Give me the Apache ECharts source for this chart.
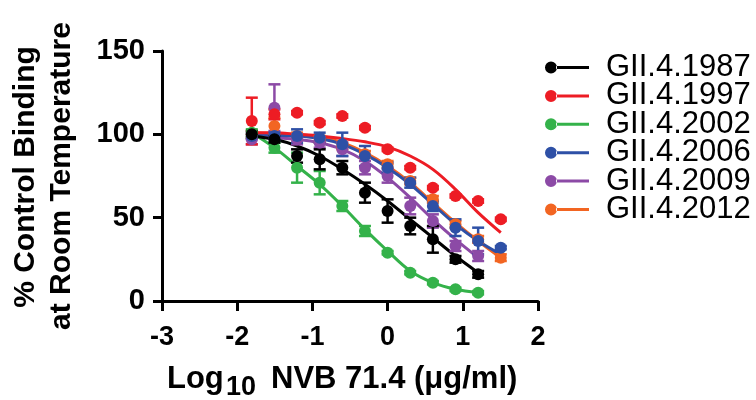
<!DOCTYPE html>
<html>
<head>
<meta charset="utf-8">
<script src="https://cdn.jsdelivr.net/npm/echarts@6/dist/echarts.min.js"></script>
<style>html,body{margin:0;padding:0;background:#fff}#c{width:756px;height:400px}</style>
</head>
<body>
<div id="c"></div>
<script>
// log10 concentration (2-fold dilutions)
var xLog = [-1.806, -1.505, -1.204, -0.903, -0.602, -0.301, 0, 0.301, 0.602, 0.903, 1.204, 1.505];
var xTicks = [-3, -2, -1, 0, 1, 2];
var yTicks = [0, 50, 100, 150];

var names = ['GII.4.1987', 'GII.4.1997', 'GII.4.2002', 'GII.4.2006', 'GII.4.2009', 'GII.4.2012'];
var colors = ['#000000', '#ED1C24', '#34B24A', '#2E50A6', '#8C4AA6', '#F26522'];

// measured means (% control binding)
var v1987 = [100, 97, 87, 85, 80, 65, 54, 45, 37, 25, 16];
var v1997 = [108, 112, 113, 107, 111, 104, 91, 80, 68, 63, 60, 49];
var v2002 = [101, 92, 80, 71, 57, 42, 29, 17, 11, 7, 5];
var v2006 = [99, 99, 99, 98, 94, 87, 80, 71, 57, 44, 36, 32];
var v2009 = [97, 116, 97, 95, 91, 80, 75, 57, 48, 33, 27];
var v2012 = [100, 105, 99, 97, 93, 88, 82, 72, 61, 46, 37, 26];

// error bars (+/-)
var e1987 = [2, 2, 4, 6, 4, 6, 7, 5, 8, 2, 2];
var e1997 = [14, 3, 1, 1, 1, 1, 1, 1, 1, 1, 1, 1];
var e2002 = [2, 3, 9, 7, 3, 3, 1, 1, 1, 1, 1];
var e2006 = [2, 2, 4, 3, 7, 6, 3, 3, 3, 5, 8, 1];
var e2009 = [3, 14, 3, 3, 4, 4, 4, 5, 4, 3, 3];
var e2012 = [2, 5, 2, 2, 2, 2, 2, 2, 2, 2, 2, 2];

// fitted curves read at each concentration
var f1987 = [99, 97, 93, 87, 79, 70, 60, 49, 38, 27, 17];
var f1997 = [101, 101, 100, 99, 97.5, 95.5, 92.5, 87, 79, 67, 53, 41];
var f2002 = [101, 92, 81, 70, 57, 43, 30, 18, 11, 7, 5];
var f2006 = [100, 99.5, 99, 97.5, 94, 88, 80, 70, 58, 46, 36, 28];
var f2009 = [99, 98, 97, 95, 91, 84, 74, 62, 49, 37, 26];
var f2012 = [101, 100.5, 100, 98.5, 95, 89, 81, 71, 59, 47, 36, 26];

var vals = [v1987, v1997, v2002, v2006, v2009, v2012];
var errs = [e1987, e1997, e2002, e2006, e2009, e2012];
var fits = [f1987, f1997, f2002, f2006, f2009, f2012];

var FONT = "'Liberation Sans', Arial, sans-serif";

function pairs(arr) { return arr.map(function (v, i) { return [xLog[i], v]; }); }
function errData(v, e) { return v.map(function (m, i) { return [xLog[i], m - e[i], m + e[i]]; }); }
function errRender(color) {
  return function (params, api) {
    var x = api.value(0), lo = api.value(1), hi = api.value(2);
    var p1 = api.coord([x, hi]), p2 = api.coord([x, lo]);
    var w = 6, st = { stroke: color, lineWidth: 2.5 };
    return { type: 'group', children: [
      { type: 'line', shape: { x1: p1[0], y1: p1[1], x2: p2[0], y2: p2[1] }, style: st },
      { type: 'line', shape: { x1: p1[0] - w, y1: p1[1], x2: p1[0] + w, y2: p1[1] }, style: st },
      { type: 'line', shape: { x1: p2[0] - w, y1: p2[1], x2: p2[0] + w, y2: p2[1] }, style: st }
    ]};
  };
}

var drawOrder = [5, 4, 3, 1, 2, 0];
var series = [];
drawOrder.forEach(function (k) {
  series.push({ name: names[k], type: 'scatter', data: pairs(vals[k]), symbol: 'circle', symbolSize: 12,
    itemStyle: { color: colors[k], opacity: 1 }, z: 4 });
  series.push({ name: names[k], type: 'line', data: pairs(fits[k]), smooth: 0.35, showSymbol: false,
    lineStyle: { color: colors[k], width: 3 }, itemStyle: { color: colors[k] }, silent: true, z: 2 });
  series.push({ name: names[k], type: 'custom', data: errData(vals[k], errs[k]), renderItem: errRender(colors[k]),
    itemStyle: { color: colors[k] }, z: 3 });
});

var icon = 'path://M0,6a6,6 0 1,0 12,0a6,6 0 1,0 -12,0zM11,4.5h33v3h-33z';

var chart = echarts.init(document.getElementById('c'), null, { renderer: 'canvas' });
chart.setOption({
  animation: false,
  backgroundColor: '#ffffff',
  grid: { left: 162, right: 218, top: 51, bottom: 99 },
  xAxis: {
    type: 'value', min: xTicks[0], max: xTicks[xTicks.length - 1], interval: 1,
    axisLine: { onZero: false, lineStyle: { color: '#000', width: 3 } },
    axisTick: { length: 10, lineStyle: { color: '#000', width: 3 } },
    axisLabel: { color: '#000', fontSize: 27, fontWeight: 'bold', fontFamily: FONT, margin: 23 },
    splitLine: { show: false }
  },
  yAxis: {
    type: 'value', min: yTicks[0], max: yTicks[yTicks.length - 1], interval: 50,
    axisLine: { show: true, onZero: false, lineStyle: { color: '#000', width: 3 } },
    axisTick: { show: true, length: 9, lineStyle: { color: '#000', width: 3 } },
    axisLabel: { color: '#000', fontSize: 29, fontWeight: 'bold', fontFamily: FONT, margin: 17 },
    splitLine: { show: false }
  },
  legend: {
    orient: 'vertical', left: 540, top: 47, itemWidth: 44, itemHeight: 12, itemGap: -2.6,
    data: names.map(function (n, i) { return { name: n, icon: icon, itemStyle: { color: colors[i] } }; }),
    textStyle: { color: '#000', fontSize: 31, fontFamily: FONT, padding: [0, 0, 0, 12] }
  },
  graphic: [
    { type: 'text', x: 26, y: 177, rotation: Math.PI / 2,
      style: { text: '% Control Binding', fill: '#000', font: 'bold 30px ' + FONT, textAlign: 'center', textVerticalAlign: 'middle' } },
    { type: 'text', x: 62, y: 176, rotation: Math.PI / 2,
      style: { text: 'at Room Temperature', fill: '#000', font: 'bold 30px ' + FONT, textAlign: 'center', textVerticalAlign: 'middle' } },
    { type: 'text', x: 167, y: 379,
      style: { text: 'Log', fill: '#000', font: 'bold 31px ' + FONT, textAlign: 'left', textVerticalAlign: 'middle' } },
    { type: 'text', x: 226, y: 388,
      style: { text: '10', fill: '#000', font: 'bold 27px ' + FONT, textAlign: 'left', textVerticalAlign: 'middle' } },
    { type: 'text', x: 271, y: 379,
      style: { text: 'NVB 71.4 (\u03bcg/ml)', fill: '#000', font: 'bold 31px ' + FONT, textAlign: 'left', textVerticalAlign: 'middle' } }
  ],
  series: series
});
</script>
</body>
</html>
